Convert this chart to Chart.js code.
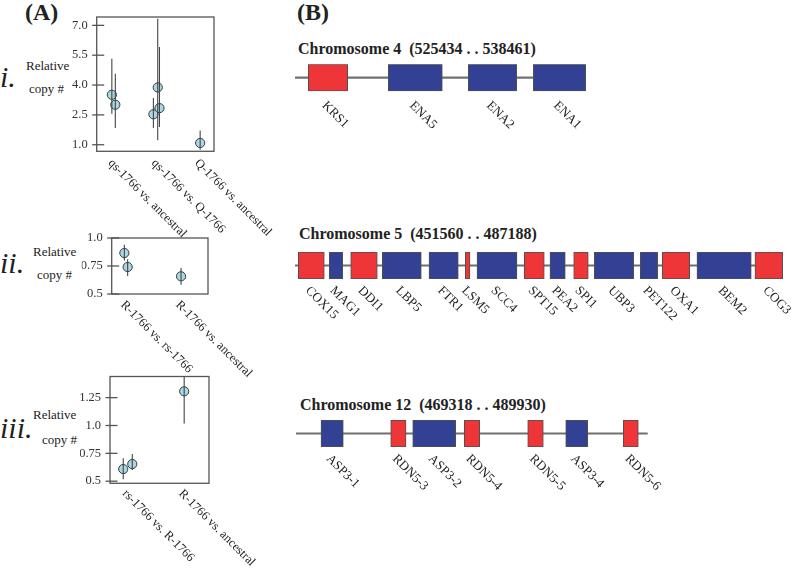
<!DOCTYPE html>
<html><head><meta charset="utf-8">
<script src="https://cdn.jsdelivr.net/npm/chart.js@4/dist/chart.umd.min.js"></script>
<style>
body{margin:0;width:796px;height:572px;background:#fff;position:relative;overflow:hidden;font-family:"Liberation Serif",serif;color:#222}
.t{position:absolute;line-height:1;white-space:pre}
.c{position:absolute}
</style></head><body>
<div class="t" style="left:25px;top:0px;font-size:24px;font-weight:bold">(A)</div>
<div class="t" style="left:297px;top:0px;font-size:24px;font-weight:bold">(B)</div>
<div class="t" style="left:0px;top:62px;font-size:30px;font-style:italic">i.</div>
<div class="t" style="left:0px;top:248px;font-size:30px;font-style:italic">ii.</div>
<div class="t" style="left:0px;top:413px;font-size:30px;font-style:italic">iii.</div>
<div class="t" style="left:26px;top:59px;font-size:13px">Relative</div>
<div class="t" style="left:29px;top:82px;font-size:13px">copy #</div>
<div class="t" style="left:33px;top:245px;font-size:13px">Relative</div>
<div class="t" style="left:37px;top:268px;font-size:13px">copy #</div>
<div class="t" style="left:33px;top:408px;font-size:13px">Relative</div>
<div class="t" style="left:42px;top:433px;font-size:13px">copy #</div>
<div class="t" style="left:298px;top:41px;font-size:16px;font-weight:bold">Chromosome 4  (525434 . . 538461)</div>
<div class="t" style="left:299px;top:226px;font-size:16px;font-weight:bold">Chromosome 5  (451560 . . 487188)</div>
<div class="t" style="left:300px;top:397px;font-size:16px;font-weight:bold">Chromosome 12  (469318 . . 489930)</div>

<div class="c" style="left:0;top:0;width:290px;height:245px"><canvas id="cI"></canvas></div>
<div class="c" style="left:0;top:220px;width:290px;height:170px"><canvas id="cII"></canvas></div>
<div class="c" style="left:0;top:360px;width:290px;height:212px"><canvas id="cIII"></canvas></div>
<div class="c" style="left:280px;top:55px;width:516px;height:95px"><canvas id="c4"></canvas></div>
<div class="c" style="left:280px;top:240px;width:516px;height:110px"><canvas id="c5"></canvas></div>
<div class="c" style="left:280px;top:410px;width:516px;height:110px"><canvas id="c12"></canvas></div>

<script>
// ---------- Panel A data ----------
// (i)
const catsI = ['qs-1766 vs. ancestral', 'qs-1766 vs. Q-1766', 'Q-1766 vs. ancestral'];
const posI = [0.96, 1.04, 1.92, 2.02, 2.06, 3.0];   // category index + jitter
const valI = [3.51, 3.01, 2.53, 3.88, 2.84, 1.09];
const loI  = [2.56, 1.84, 1.84, 1.22, 1.89, 0.75];
const hiI  = [5.32, 4.57, 3.35, 7.33, 5.91, 1.72];
const tickValsI = [1.0, 2.5, 4.0, 5.5, 7.0];
const tickLabelsI = ['1.0', '2.5', '4.0', '5.5', '7.0'];
// (ii)
const catsII = ['R-1766 vs. rs-1766', 'R-1766 vs. ancestral'];
const posII = [0.97, 1.03, 2.0];
const valII = [0.866, 0.741, 0.658];
const loII  = [0.80, 0.66, 0.583];
const hiII  = [0.94, 0.81, 0.732];
const tickValsII = [0.5, 0.75, 1.0];
const tickLabelsII = ['0.5', '0.75', '1.0'];
// (iii)
const catsIII = ['rs-1766 vs. R-1766', 'R-1766 vs. ancestral'];
const posIII = [0.92, 1.08, 2.0];
const valIII = [0.609, 0.654, 1.307];
const loIII  = [0.517, 0.600, 1.018];
const hiIII  = [0.705, 0.743, 1.50];
const tickValsIII = [0.5, 0.75, 1.0, 1.25];
const tickLabelsIII = ['0.5', '0.75', '1.0', '1.25'];

// ---------- Panel B data (genomic coordinates, bp) ----------
const chr4Range = [525434, 538461];
const chr4Genes = ['KRS1', 'ENA5', 'ENA2', 'ENA1'];
const chr4Kind  = ['R', 'B', 'B', 'B'];
const chr4Start = [526029, 529611, 533193, 536103];
const chr4End   = [527793, 532029, 535359, 538449];

const chr5Range = [451560, 487188];
const chr5Genes = ['COX15', 'MAG1', 'DDI1', 'LBP5', 'FTR1', 'LSM5', 'SCC4', 'SPT15', 'PEA2', 'SPI1', 'UBP3', 'PET122', 'OXA1', 'BEM2', 'COG3'];
const chr5Kind  = ['R', 'B', 'R', 'B', 'B', 'R', 'B', 'R', 'B', 'R', 'B', 'B', 'R', 'B', 'R'];
const chr5Start = [451801, 454064, 455626, 457933, 461342, 463992, 464846, 468299, 470175, 471905, 473409, 476767, 478373, 480906, 485140];
const chr5End   = [453699, 455042, 457568, 460780, 463481, 464335, 467766, 469759, 471292, 472971, 476285, 478037, 480373, 484870, 487162];

const chr12Range = [469318, 489930];
const chr12Genes = ['ASP3-1', 'RDN5-3', 'ASP3-2', 'RDN5-4', 'RDN5-5', 'ASP3-4', 'RDN5-6'];
const chr12Kind  = ['B', 'R', 'B', 'R', 'R', 'B', 'R'];
const chr12Start = [470783, 474868, 476158, 479182, 482898, 485125, 488501];
const chr12End   = [472090, 475765, 478678, 480085, 483812, 486415, 489380];

const SERIF = 'Liberation Serif';
const RED = '#ee3538', BLUE = '#334195';

// ---------- plugins ----------
const framePlugin = {
  id: 'frame',
  beforeDatasetsDraw(chart) {
    const {ctx, chartArea: a, scales: {y}} = chart;
    ctx.save();
    ctx.strokeStyle = '#555'; ctx.lineWidth = 1.3;
    ctx.strokeRect(a.left, a.top, a.right - a.left, a.bottom - a.top);
    y.ticks.forEach(t => {
      const py = y.getPixelForValue(t.value);
      ctx.beginPath(); ctx.moveTo(a.left - 4.5, py); ctx.lineTo(a.left + 7.5, py); ctx.stroke();
    });
    ctx.restore();
  }
};
const errPlugin = {
  id: 'err',
  afterDatasetsDraw(chart) {
    const {ctx, chartArea: a, scales: {x, y}} = chart;
    const ds = chart.data.datasets[0];
    ctx.save();
    ctx.beginPath(); ctx.rect(a.left, a.top, a.right - a.left, a.bottom - a.top); ctx.clip();
    ctx.strokeStyle = '#444'; ctx.lineWidth = 1.1;
    ds.data.forEach((p, i) => {
      const px = x.getPixelForValue(p.x);
      ctx.beginPath();
      ctx.moveTo(px, y.getPixelForValue(ds.errLo[i]));
      ctx.lineTo(px, y.getPixelForValue(ds.errHi[i]));
      ctx.stroke();
    });
    ctx.restore();
  }
};
const catPlugin = {
  id: 'cats',
  afterDraw(chart, args, opts) {
    const {ctx, chartArea: a, scales: {x}} = chart;
    ctx.save();
    ctx.fillStyle = '#222';
    ctx.font = '12.5px "' + SERIF + '"';
    ctx.textAlign = 'left'; ctx.textBaseline = 'middle';
    opts.cats.forEach((c, i) => {
      const px = x.getPixelForValue(i + 1) + opts.dx;
      ctx.save(); ctx.translate(px, a.bottom + opts.dy); ctx.rotate(Math.PI / 4);
      ctx.fillText(c, 0, 0); ctx.restore();
    });
    ctx.restore();
  }
};
const geneLabelPlugin = {
  id: 'geneLabels',
  afterDraw(chart, args, opts) {
    const {ctx, chartArea: a, scales: {x}} = chart;
    const cy = (a.top + a.bottom) / 2;
    ctx.save();
    ctx.fillStyle = '#222';
    ctx.font = '13px "' + SERIF + '"';
    ctx.textAlign = 'left'; ctx.textBaseline = 'middle';
    opts.names.forEach((n, i) => {
      const px = x.getPixelForValue((opts.start[i] + opts.end[i]) / 2) + opts.dx;
      ctx.save(); ctx.translate(px, cy + opts.dy); ctx.rotate(Math.PI / 4);
      ctx.fillText(n, 0, 0); ctx.restore();
    });
    ctx.restore();
  }
};

function scatterChart(id, cats, pos, val, lo, hi, tickVals, tickLabels, yr, xr, pad, dx, dy) {
  return new Chart(document.getElementById(id), {
    type: 'scatter',
    data: { datasets: [{
      data: pos.map((x, i) => ({x: x, y: val[i]})),
      errLo: lo, errHi: hi,
      pointRadius: 4.6, pointBackgroundColor: '#a9d8e4', pointBorderColor: '#3a3a3a', pointBorderWidth: 1
    }]},
    options: {
      responsive: true, maintainAspectRatio: false, animation: false, events: [],
      layout: { padding: pad },
      plugins: { legend: {display: false}, tooltip: {enabled: false}, cats: {cats: cats, dx: dx, dy: dy} },
      scales: {
        x: { type: 'linear', display: false, min: xr[0], max: xr[1] },
        y: { type: 'linear', min: yr[0], max: yr[1],
             afterBuildTicks: s => { s.ticks = tickVals.map(v => ({value: v})); },
             afterFit: s => { s.width = 30; },
             grid: { display: false, drawTicks: false }, border: { display: false },
             ticks: { padding: 9, color: '#333', font: { family: SERIF, size: 12.5 },
                      callback: (v, i) => tickLabels[i] } }
      }
    },
    plugins: [framePlugin, errPlugin, catPlugin]
  });
}

function geneChart(id, range, names, kinds, start, end, pad, dy) {
  return new Chart(document.getElementById(id), {
    type: 'bar',
    data: { labels: ['chr'], datasets: [
      { data: names.map((n, i) => ({y: 'chr', x: [start[i], end[i]]})),
        backgroundColor: kinds.map(k => k === 'R' ? RED : BLUE),
        borderColor: '#505050', borderWidth: 1, borderSkipped: false,
        barThickness: 27, grouped: false },
      { data: [{y: 'chr', x: [range[0], range[1]]}],
        backgroundColor: '#707070', borderWidth: 0, barThickness: 1.5, grouped: false }
    ]},
    options: {
      indexAxis: 'y', responsive: true, maintainAspectRatio: false, animation: false, events: [],
      layout: { padding: pad },
      plugins: { legend: {display: false}, tooltip: {enabled: false},
                 geneLabels: {names: names, start: start, end: end, dx: -4, dy: dy} },
      scales: {
        x: { type: 'linear', display: false, min: range[0], max: range[1] },
        y: { display: false }
      }
    },
    plugins: [geneLabelPlugin]
  });
}

scatterChart('cI', catsI, posI, valI, loI, hiI, tickValsI, tickLabelsI, [0.67, 7.42], [0.61, 3.32],
  {left: 66.7, right: 76, top: 17, bottom: 93.7}, -3.5, 10);
scatterChart('cII', catsII, posII, valII, loII, hiII, tickValsII, tickLabelsII, [0.5, 1.0], [0.74, 2.49],
  {left: 81.7, right: 82, top: 18, bottom: 96}, -3.5, 9);
scatterChart('cIII', catsIII, posIII, valIII, loIII, hiIII, tickValsIII, tickLabelsIII, [0.481, 1.44], [0.685, 2.44],
  {left: 80, right: 81, top: 16, bottom: 88.7}, -3.5, 8.5);

geneChart('c4', chr4Range, chr4Genes, chr4Kind, chr4Start, chr4End, {left: 15, right: 210, top: 9.2, bottom: 58.8}, 25.8);
geneChart('c5', chr5Range, chr5Genes, chr5Kind, chr5Start, chr5End, {left: 15, right: 13, top: 12, bottom: 71}, 23);
geneChart('c12', chr12Range, chr12Genes, chr12Kind, chr12Start, chr12End, {left: 16, right: 148.3, top: 10, bottom: 73}, 23.3);
</script>
</body></html>
